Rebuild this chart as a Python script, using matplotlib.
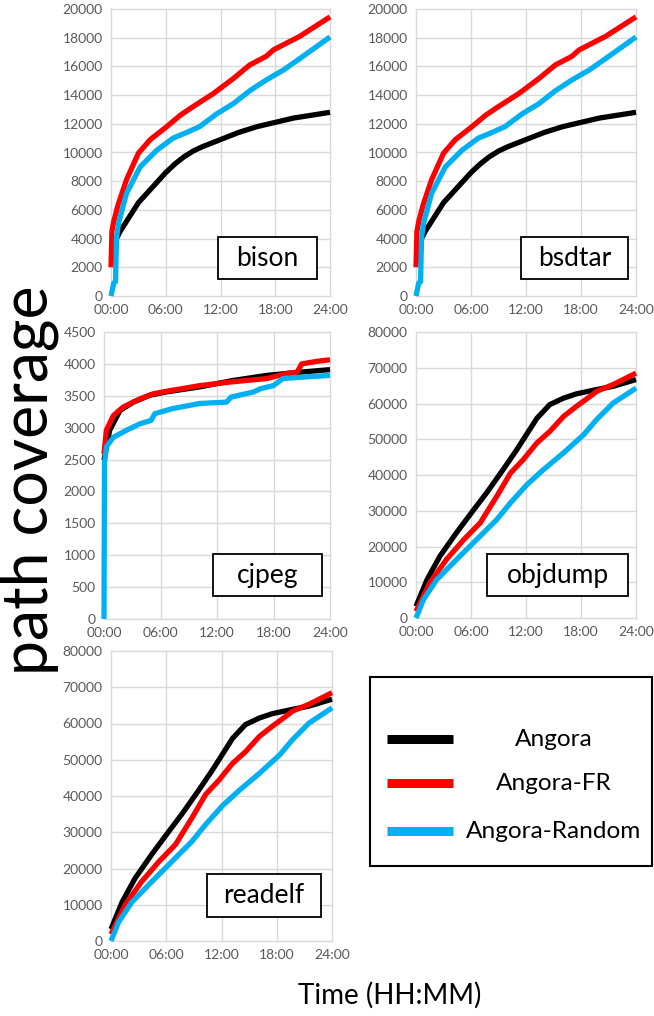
import matplotlib
matplotlib.use("Agg")
import matplotlib.pyplot as plt
from matplotlib.patches import Rectangle
from matplotlib.lines import Line2D
from matplotlib.ticker import FixedLocator, FuncFormatter

plt.rcParams['font.family'] = ['Lato', 'DejaVu Sans']

W, H = 654, 1016

# ---------------- data (hours, path coverage) ----------------
bison_t_angora = [0.4, 0.6, 1, 2, 3, 4, 5, 6, 7, 8, 9, 10, 12, 14, 16, 18, 20, 22, 24]
bison_angora = [2300, 4000, 4500, 5500, 6500, 7200, 7900, 8600, 9200, 9700, 10100, 10400,
                10900, 11400, 11800, 12100, 12400, 12600, 12800]
bison_t_fr = [0.0, 0.1, 0.3, 0.8, 1.7, 3.0, 4.3, 6.1, 7.6, 9.0, 11.2, 13.4, 15.2, 17.0, 17.8, 20.7, 24]
bison_fr = [2000, 4500, 5200, 6400, 8100, 9950, 10900, 11800, 12600, 13200, 14100, 15150,
            16100, 16700, 17150, 18100, 19450]
bison_t_rand = [0.0, 0.3, 0.5, 0.6, 0.8, 1.7, 3.2, 5.0, 6.8, 8.3, 9.7, 11.6, 13.4, 15.2, 17.0, 18.9, 20.7, 24]
bison_rand = [0, 900, 1000, 4000, 5000, 7150, 9000, 10150, 11000, 11400, 11800, 12700,
              13400, 14300, 15050, 15750, 16550, 18050]

bsdtar_t_angora = [0.4, 0.6, 1, 2, 3, 4, 5, 6, 7, 8, 9, 10, 12, 14, 16, 18, 20, 22, 24]
bsdtar_angora = [2300, 4000, 4500, 5500, 6500, 7200, 7900, 8600, 9200, 9700, 10100, 10400,
                 10900, 11400, 11800, 12100, 12400, 12600, 12800]
bsdtar_t_fr = [0.0, 0.1, 0.3, 0.8, 1.7, 3.0, 4.3, 6.1, 7.6, 9.0, 11.2, 13.4, 15.2, 17.0, 17.8, 20.7, 24]
bsdtar_fr = [2000, 4500, 5200, 6400, 8100, 9950, 10900, 11800, 12600, 13200, 14100, 15150,
             16100, 16700, 17150, 18100, 19450]
bsdtar_t_rand = [0.0, 0.3, 0.5, 0.6, 0.8, 1.7, 3.2, 5.0, 6.8, 8.3, 9.7, 11.6, 13.4, 15.2, 17.0, 18.9, 20.7, 24]
bsdtar_rand = [0, 900, 1000, 4000, 5000, 7150, 9000, 10150, 11000, 11400, 11800, 12700,
               13400, 14300, 15050, 15750, 16550, 18050]

cjpeg_t_angora = [0.0, 0.6, 1.7, 3.1, 4.9, 6.6, 10.2, 13.7, 17.3, 20.8, 24]
cjpeg_angora = [2490, 2960, 3270, 3400, 3510, 3560, 3640, 3740, 3820, 3870, 3910]
cjpeg_t_fr = [0.0, 0.25, 1.0, 2.0, 3.8, 5.2, 6.6, 10.2, 13.7, 17.3, 19.4, 20.5, 21.0, 22.6, 24]
cjpeg_fr = [2590, 2960, 3190, 3320, 3450, 3530, 3570, 3660, 3720, 3770, 3850, 3870, 4000, 4040, 4065]
cjpeg_t_rand = [0.0, 0.05, 0.25, 1.0, 2.4, 3.8, 5.0, 5.4, 7.3, 10.2, 13.0, 13.5, 15.9, 16.6,
                18.0, 19.0, 20.8, 24]
cjpeg_rand = [0, 2440, 2700, 2850, 2960, 3060, 3115, 3220, 3300, 3380, 3400, 3480, 3560, 3610,
              3660, 3770, 3790, 3820]

objdump_t_angora = [0.0, 1.2, 2.6, 4.4, 6.3, 7.7, 9.5, 11.0, 12.4, 13.2, 14.6, 16.1, 17.5, 19.7, 21.5, 24]
objdump_angora = [3260, 10700, 17250, 23800, 30300, 35000, 41500, 47100, 52700, 55900, 59700,
                  61500, 62700, 63900, 64800, 66700]
objdump_t_fr = [0.0, 1.5, 3.3, 5.2, 7.0, 8.8, 10.3, 11.7, 13.2, 14.6, 16.1, 17.5, 19.0, 19.7, 21.5, 24]
objdump_fr = [1860, 9800, 16300, 21900, 26600, 34000, 40500, 44300, 49000, 52200, 56400, 59200,
              62000, 63400, 65300, 68500]
objdump_t_rand = [0.0, 0.8, 2.25, 4.4, 6.6, 8.8, 10.3, 12.1, 13.9, 16.1, 18.3, 19.7, 21.5, 24]
objdump_rand = [0, 5100, 10700, 16300, 21900, 27500, 32200, 37300, 41500, 46200, 51300, 55500,
                60100, 64300]

readelf_t_angora = [0.0, 1.2, 2.6, 4.4, 6.3, 7.7, 9.5, 11.0, 12.4, 13.2, 14.6, 16.1, 17.5, 19.7, 21.5, 24]
readelf_angora = [3260, 10700, 17250, 23800, 30300, 35000, 41500, 47100, 52700, 55900, 59700,
                  61500, 62700, 63900, 64800, 66700]
readelf_t_fr = [0.0, 1.5, 3.3, 5.2, 7.0, 8.8, 10.3, 11.7, 13.2, 14.6, 16.1, 17.5, 19.0, 19.7, 21.5, 24]
readelf_fr = [1860, 9800, 16300, 21900, 26600, 34000, 40500, 44300, 49000, 52200, 56400, 59200,
              62000, 63400, 65300, 68500]
readelf_t_rand = [0.0, 0.8, 2.25, 4.4, 6.6, 8.8, 10.3, 12.1, 13.9, 16.1, 18.3, 19.7, 21.5, 24]
readelf_rand = [0, 5100, 10700, 16300, 21900, 27500, 32200, 37300, 41500, 46200, 51300, 55500,
                60100, 64300]

x_ticks = [0, 6, 12, 18, 24]
x_tick_labels = ["00:00", "06:00", "12:00", "18:00", "24:00"]
series_names = ["Angora", "Angora-FR", "Angora-Random"]
series_colors = ["#000000", "#ff0000", "#00b0f0"]

panels = [
    # name, axes px (x0, y0, x1, y1), ymax, ystep, label box px (x0, y0, x1, y1), series
    ("bison", (111, 9, 330, 296), 20000, 2000, (218, 237, 317, 279),
     [(bison_t_angora, bison_angora), (bison_t_fr, bison_fr), (bison_t_rand, bison_rand)]),
    ("bsdtar", (416, 9, 636, 296), 20000, 2000, (521, 237, 628, 279),
     [(bsdtar_t_angora, bsdtar_angora), (bsdtar_t_fr, bsdtar_fr), (bsdtar_t_rand, bsdtar_rand)]),
    ("cjpeg", (104, 332, 330, 619), 4500, 500, (213, 554, 322, 596),
     [(cjpeg_t_angora, cjpeg_angora), (cjpeg_t_fr, cjpeg_fr), (cjpeg_t_rand, cjpeg_rand)]),
    ("objdump", (416, 332, 636, 618), 80000, 10000, (487, 554, 628, 596),
     [(objdump_t_angora, objdump_angora), (objdump_t_fr, objdump_fr), (objdump_t_rand, objdump_rand)]),
    ("readelf", (111, 651, 332, 941), 80000, 10000, (207, 874, 321, 917),
     [(readelf_t_angora, readelf_angora), (readelf_t_fr, readelf_fr), (readelf_t_rand, readelf_rand)]),
]

fig = plt.figure(figsize=(W / 100, H / 100), dpi=100)
fig.patch.set_facecolor("white")


def fig_rect(x0, y0, x1, y1):
    return [x0 / W, 1 - y1 / H, (x1 - x0) / W, (y1 - y0) / H]


tick_color = "#595959"
grid_color = "#d9d9d9"

for name, (ax0, ay0, ax1, ay1), ymax, ystep, (bx0, by0, bx1, by1), series in panels:
    ax = fig.add_axes(fig_rect(ax0, ay0, ax1, ay1))
    ax.set_xlim(0, 24)
    ax.set_ylim(0, ymax)
    ax.xaxis.set_major_locator(FixedLocator(x_ticks))
    ax.set_xticklabels(x_tick_labels)
    yt = list(range(0, ymax + 1, ystep))
    ax.yaxis.set_major_locator(FixedLocator(yt))
    ax.yaxis.set_major_formatter(FuncFormatter(lambda v, p: f"{int(v)}"))
    ax.tick_params(length=0, labelsize=10, colors=tick_color, pad=6)
    for s in ax.spines.values():
        s.set_visible(False)
    ax.grid(True, color=grid_color, linewidth=1.0)
    ax.set_axisbelow(True)
    for gl in ax.get_xgridlines() + ax.get_ygridlines():
        gl.set_clip_on(False)
    for (t, v), c in zip(series, series_colors):
        ax.plot(t, v, color=c, linewidth=3.8, solid_capstyle="butt", zorder=3, clip_on=False)
    # label box
    fig.add_artist(Rectangle((bx0 / W, 1 - by1 / H), (bx1 - bx0) / W, (by1 - by0) / H,
                             transform=fig.transFigure, facecolor="white",
                             edgecolor="black", linewidth=1.3, zorder=5))
    fig.text((bx0 + bx1) / 2 / W, 1 - (by0 + by1) / 2 / H, name, ha="center", va="center",
             fontsize=19, color="black", zorder=6)

# legend box
lx0, ly0, lx1, ly1 = 370, 677, 652, 866
fig.add_artist(Rectangle((lx0 / W, 1 - ly1 / H), (lx1 - lx0) / W, (ly1 - ly0) / H,
                         transform=fig.transFigure, facecolor="white",
                         edgecolor="black", linewidth=1.5, zorder=5))
leg_y = [739, 783, 831]
for name, c, yy in zip(series_names, series_colors, leg_y):
    fig.add_artist(Line2D([387 / W, 453 / W], [1 - yy / H, 1 - yy / H],
                          transform=fig.transFigure, color=c, linewidth=6.5,
                          solid_capstyle="butt", zorder=6))
    fig.text(554 / W, 1 - yy / H, name, ha="center", va="center", fontsize=17.6,
             color="black", zorder=7)

fig.text(30 / W, 1 - 480 / H, "path coverage", rotation=90, ha="center", va="center",
         fontsize=45, color="black")
fig.text(390 / W, 1 - 995 / H, "Time (HH:MM)", ha="center", va="center", fontsize=20,
         color="black")

fig.savefig("out.png", dpi=100, facecolor="white")
